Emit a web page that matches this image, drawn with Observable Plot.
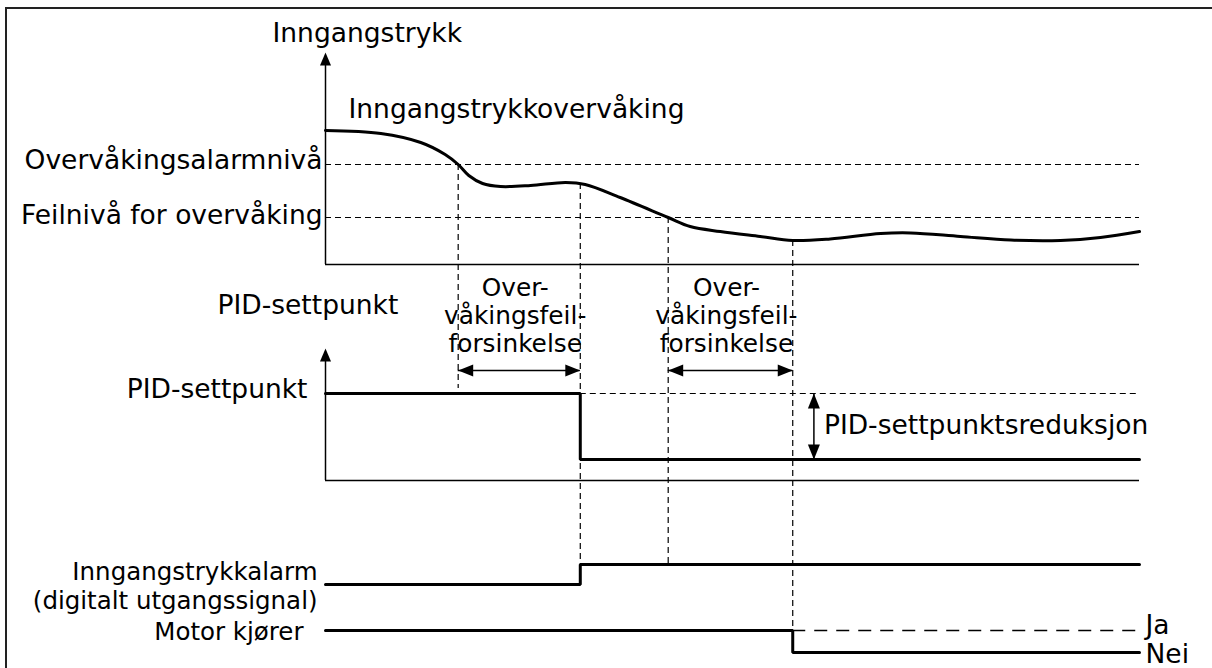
<!DOCTYPE html>
<html><head><meta charset="utf-8">
<script src="https://cdn.jsdelivr.net/npm/d3@7"></script>
<script src="https://cdn.jsdelivr.net/npm/@observablehq/plot@0.6"></script>
<style>
html,body{margin:0;padding:0;background:#fff;overflow:hidden;}
#wrap{position:relative;width:1212px;height:668px;}
#frame{position:absolute;left:5px;top:7px;width:1300px;height:700px;border-left:2px solid #222;border-top:2px solid #222;}
#chart{position:absolute;left:0;top:0;}
#chart svg{display:block;}
</style></head><body><div id="wrap"><div id="frame"></div><div id="chart"></div></div>
<script>
// ---- data (relative units) ----
const timeEnd = 100;                       // end of the traces
const tAlarmCross = 16.3;                  // pressure falls below alarm level
const tAlarmDelayEnd = 31.3;               // end of monitoring-fault delay #1
const tFaultCross = 42.1;                  // pressure falls below fault level
const tFaultDelayEnd = 57.4;               // end of monitoring-fault delay #2
const tReductionMarker = 60;               // position of PID reduction arrow

const pressureT = [0, 6.8, 11.7, 14.7, 16.3, 17.6, 19.3, 21.5, 25.2, 29.5, 31.9, 36.2, 42.1, 44.8, 48.5, 53.4, 57.4, 62.0, 68.2, 71.9, 78.0, 84.2, 90.3, 95.2, 100];
const pressureV = [6.7, 6.55, 6.1, 5.5, 5.0, 4.45, 4.05, 3.9, 3.95, 4.1, 4.0, 3.35, 2.35, 1.9, 1.65, 1.4, 1.2, 1.28, 1.55, 1.58, 1.4, 1.22, 1.2, 1.35, 1.65];
const pressureAxisTop = 10.6;
const alarmLevel = 5.0;
const faultLevel = 2.35;
const pressureAtDelayEnds = [4.05, 1.2];   // curve value where delay lines start

const setpointAxisTop = 13.2;
const setpointHigh = 8.7;
const setpointLow = 2.1;
const setpointT = [0, tAlarmDelayEnd, timeEnd];
const setpointV = [setpointHigh, setpointLow, setpointLow];

const alarmT = [0, tAlarmDelayEnd, timeEnd];
const alarmV = [0, 1, 1];                  // digital output
const motorT = [0, tFaultDelayEnd, timeEnd];
const motorV = [1, 0, 0];                  // 1 = Ja, 0 = Nei

// ---- layout (pixel baselines of the stacked panels) ----
const H = 668;
const panels = {
  pressure: {base: 264, unit: 20},
  setpoint: {base: 480, unit: 10},
  alarm:    {base: 584, unit: 20},
  motor:    {base: 652, unit: 22}
};
const Y = (p, v) => H - (panels[p].base - v * panels[p].unit);

const FONT = "DejaVu Sans";
const FS = 26.5;
const FS_SMALL = 24.5;
const thick = 3, thin = 1.5, dash = "6,4";

const head = {draw(ctx) { ctx.moveTo(0, 0); ctx.lineTo(-15, -6); ctx.lineTo(-15, 6); ctx.closePath(); }};
const axisHead = {draw(ctx) { ctx.moveTo(0, 0); ctx.lineTo(-13, -5.5); ctx.lineTo(-13, 5.5); ctx.closePath(); }};

const pressure = pressureT.map((t, i) => ({t, y: Y("pressure", pressureV[i])}));
const setpoint = setpointT.map((t, i) => ({t, y: Y("setpoint", setpointV[i])}));
const alarm = alarmT.map((t, i) => ({t, y: Y("alarm", alarmV[i])}));
const motor = motorT.map((t, i) => ({t, y: Y("motor", motorV[i])}));

const vDashes = [
  {t: tAlarmCross, y1: Y("pressure", alarmLevel), y2: Y("setpoint", 9.2)},
  {t: tAlarmDelayEnd, y1: Y("pressure", pressureAtDelayEnds[0]), y2: Y("alarm", 1)},
  {t: tFaultCross, y1: Y("pressure", faultLevel), y2: Y("alarm", 1)},
  {t: tFaultDelayEnd, y1: Y("pressure", pressureAtDelayEnds[1]), y2: Y("motor", 1)}
];
const hDashes = [
  {x1: 0, x2: timeEnd, y: Y("pressure", alarmLevel)},
  {x1: 0, x2: timeEnd, y: Y("pressure", faultLevel)},
  {x1: tAlarmDelayEnd, x2: timeEnd, y: Y("setpoint", setpointHigh)}
];
const delayArrowY = Y("setpoint", 11.0);
const delays = [[tAlarmCross, tAlarmDelayEnd], [tFaultCross, tFaultDelayEnd]];
const heads = [
  ...delays.flatMap(([a, b]) => [{t: a, y: delayArrowY, r: 180}, {t: b, y: delayArrowY, r: 0}]),
  {t: tReductionMarker, y: Y("setpoint", setpointHigh), r: -90},
  {t: tReductionMarker, y: Y("setpoint", setpointLow), r: 90}
];
const axisHeads = [
  {t: 0, y: Y("pressure", pressureAxisTop), r: -90},
  {t: 0, y: Y("setpoint", setpointAxisTop), r: -90}
];

const txt = (text, x, y, o = {}) => Plot.text([text], {
  x: () => x, y: () => y, text: d => d, fill: "black", fontFamily: FONT, fontSize: FS,
  lineAnchor: "bottom", ...o
});

const chart = Plot.plot({
  width: 1212, height: H,
  margin: 0,
  x: {domain: [0, timeEnd], range: [325, 1139], axis: null},
  y: {domain: [0, H], range: [H, 0], axis: null},
  style: {background: "transparent", fontFamily: FONT},
  marks: [
    // axes
    Plot.ruleX([0], {y1: Y("pressure", 0), y2: Y("pressure", pressureAxisTop) - 10, stroke: "black", strokeWidth: thin}),
    Plot.ruleY([Y("pressure", 0)], {x1: 0, x2: timeEnd, stroke: "black", strokeWidth: thin}),
    Plot.ruleX([0], {y1: Y("setpoint", 0), y2: Y("setpoint", setpointAxisTop) - 10, stroke: "black", strokeWidth: thin}),
    Plot.ruleY([Y("setpoint", 0)], {x1: 0, x2: timeEnd, stroke: "black", strokeWidth: thin}),
    Plot.dot(axisHeads, {x: "t", y: "y", rotate: "r", symbol: axisHead, r: 1, fill: "black", stroke: null}),
    // dashed guides
    Plot.ruleY(hDashes, {x1: "x1", x2: "x2", y: "y", stroke: "black", strokeWidth: 1.2, strokeDasharray: dash}),
    Plot.ruleX(vDashes, {x: "t", y1: "y1", y2: "y2", stroke: "black", strokeWidth: 1.2, strokeDasharray: dash}),
    // delay arrows
    Plot.ruleY(delays, {x1: d => d[0], x2: d => d[1], y: () => delayArrowY, stroke: "black", strokeWidth: thin}),
    Plot.ruleX([tReductionMarker], {y1: Y("setpoint", setpointLow), y2: Y("setpoint", setpointHigh), stroke: "black", strokeWidth: thin}),
    Plot.dot(heads, {x: "t", y: "y", rotate: "r", symbol: head, r: 1, fill: "black", stroke: null}),
    // signals
    Plot.line(pressure, {x: "t", y: "y", curve: "catmull-rom", stroke: "black", strokeWidth: thick}),
    Plot.line(setpoint, {x: "t", y: "y", curve: "step-after", stroke: "black", strokeWidth: thick, strokeLinejoin: "miter"}),
    Plot.line(alarm, {x: "t", y: "y", curve: "step-after", stroke: "black", strokeWidth: thick, strokeLinejoin: "miter"}),
    Plot.line(motor, {x: "t", y: "y", curve: "step-after", stroke: "black", strokeWidth: thick, strokeLinejoin: "miter"}),
    Plot.ruleY([Y("motor", 1)], {x1: tFaultDelayEnd, x2: timeEnd, stroke: "black", strokeWidth: 1.3, strokeDasharray: "13,9"}),
    // labels
    txt("Inngangstrykk", 0, Y("pressure", pressureAxisTop), {dx: -53, dy: -11, textAnchor: "start"}),
    txt("Inngangstrykkovervåking", 0, Y("pressure", pressureV[0]), {dx: 23, dy: -13, textAnchor: "start"}),
    txt("Overvåkingsalarmnivå", 0, Y("pressure", alarmLevel), {dx: -3, dy: 4, textAnchor: "end"}),
    txt("Feilnivå for overvåking", 0, Y("pressure", faultLevel), {dx: -3, dy: 6, textAnchor: "end"}),
    txt("PID-settpunkt", 0, Y("setpoint", setpointAxisTop), {dx: -108, dy: -35, textAnchor: "start"}),
    txt("PID-settpunkt", 0, Y("setpoint", setpointHigh), {dx: -18, dy: 4, textAnchor: "end"}),
    txt("PID-settpunktsreduksjon", tReductionMarker, Y("setpoint", (setpointHigh + setpointLow) / 2), {dx: 10, dy: 7, textAnchor: "start"}),
    ...delays.map(([a, b]) => txt("Over-\nvåkingsfeil-\nforsinkelse", (a + b) / 2, Y("setpoint", 12.9), {dx: -4, textAnchor: "middle", fontSize: 24.8, lineHeight: 1.12})),
    txt("Inngangstrykkalarm\n(digitalt utgangssignal)", 0, Y("alarm", 0), {dx: -8, dy: 24, textAnchor: "end", fontSize: FS_SMALL, lineHeight: 1.17}),
    txt("Motor kjører", 0, Y("motor", 1), {dx: -22, dy: 9, textAnchor: "end", fontSize: FS_SMALL}),
    txt("Ja", timeEnd, Y("motor", 1), {dx: 6, dy: 3, textAnchor: "start"}),
    txt("Nei", timeEnd, Y("motor", 0), {dx: 6, dy: 10, textAnchor: "start"})
  ]
});
document.getElementById("chart").appendChild(chart);
</script></body></html>
